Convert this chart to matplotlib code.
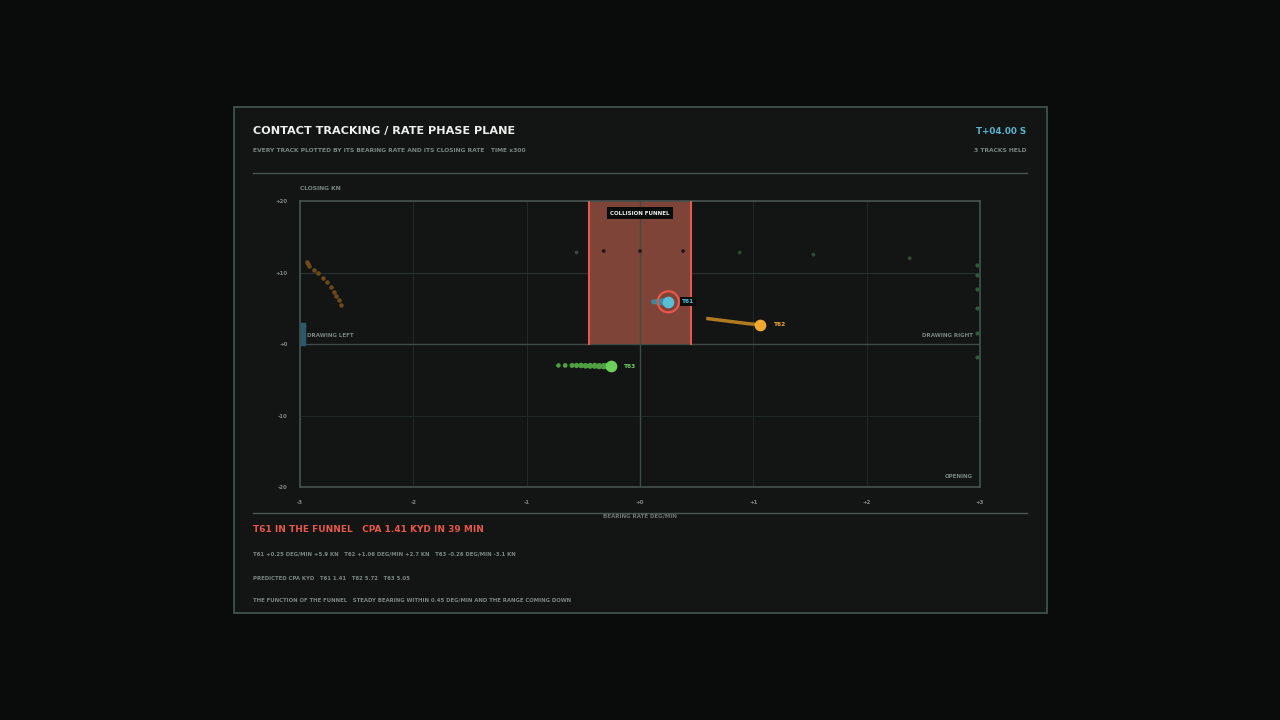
import matplotlib
matplotlib.use("Agg")
import matplotlib.pyplot as plt
from matplotlib.patches import Rectangle
import numpy as np

W, H = 1280, 720
fig = plt.figure(figsize=(W/100, H/100), dpi=100)
fig.patch.set_facecolor("#0a0b0b")

pan = fig.add_axes([0, 0, 1, 1]); pan.set_xlim(0, W); pan.set_ylim(H, 0); pan.axis("off")
pan.add_patch(Rectangle((233.5, 106.5), 813, 506, fc="#121514", ec="#41514e", lw=1.3))
pan.plot([253, 1027], [173, 173], color="#4a5654", lw=1)
pan.plot([253, 1027], [513, 513], color="#4a5654", lw=1)
pan.text(253, 131, "CONTACT TRACKING / RATE PHASE PLANE", color="#eef0ee", fontsize=8.1, fontweight="bold", va="center")
pan.text(253, 151, "EVERY TRACK PLOTTED BY ITS BEARING RATE AND ITS CLOSING RATE   TIME x300", color="#7c8583", fontsize=4.3, fontweight="bold", va="center")
pan.text(1026, 131, "T+04.00 S", color="#5ab4d0", fontsize=6.3, fontweight="bold", va="center", ha="right")
pan.text(1026, 151, "3 TRACKS HELD", color="#7c8583", fontsize=4.3, fontweight="bold", va="center", ha="right")
pan.text(300, 189, "CLOSING KN", color="#7c8583", fontsize=4.3, fontweight="bold", va="center")
pan.text(640, 516, "BEARING RATE DEG/MIN", color="#6c7573", fontsize=4.0, fontweight="bold", va="center", ha="center")
pan.text(253, 530, "T61 IN THE FUNNEL   CPA 1.41 KYD IN 39 MIN", color="#e8574a", fontsize=6.5, fontweight="bold", va="center")
pan.text(253, 554, "T61 +0.25 DEG/MIN +5.9 KN   T62 +1.06 DEG/MIN +2.7 KN   T63 -0.26 DEG/MIN -3.1 KN", color="#7c8583", fontsize=3.9, fontweight="bold", va="center")
pan.text(253, 578, "PREDICTED CPA KYD   T61 1.41   T62 5.72   T63 5.05", color="#7c8583", fontsize=3.9, fontweight="bold", va="center")
pan.text(253, 600, "THE FUNCTION OF THE FUNNEL   STEADY BEARING WITHIN 0.45 DEG/MIN AND THE RANGE COMING DOWN", color="#7c8583", fontsize=3.9, fontweight="bold", va="center")

# data
x_ticks = [-3, -2, -1, 0, 1, 2, 3]
x_labels = ["-3", "-2", "-1", "+0", "+1", "+2", "+3"]
y_ticks = [-20, -10, 0, 10, 20]
y_labels = ["-20", "-10", "+0", "+10", "+20"]
funnel_half = 0.45
names = ["T61", "T62", "T63"]
colors = ["#5bbcd6", "#f0a830", "#6ccf5c"]
cur_x = [0.25, 1.06, -0.26]
cur_y = [5.9, 2.7, -3.1]
t62_trail_x = [0.60, 0.65, 0.70, 0.75, 0.80, 0.85, 0.90, 0.95, 1.00]
t62_trail_y = [3.55, 3.45, 3.35, 3.25, 3.15, 3.05, 2.95, 2.85, 2.78]
t63_trail_x = [-0.72, -0.66, -0.60, -0.56, -0.52, -0.48, -0.44, -0.40, -0.36, -0.32, -0.29]
t63_trail_y = [-3.0, -3.0, -3.0, -3.0, -3.0, -3.05, -3.05, -3.05, -3.1, -3.1, -3.1]
t61_trail_x = [0.12, 0.15, 0.18, 0.21]
t61_trail_y = [5.9, 5.9, 5.9, 5.9]
left_orange_x = [-2.94, -2.93, -2.92, -2.88, -2.84, -2.80, -2.76, -2.73, -2.70, -2.68, -2.66, -2.64]
left_orange_y = [11.5, 11.2, 10.9, 10.4, 9.9, 9.3, 8.7, 8.0, 7.3, 6.7, 6.1, 5.4]
left_blue_y = [0.2, 0.6, 1.0, 1.4, 1.8, 2.2, 2.6]
right_green_y = [11.0, 9.7, 7.7, 5.0, 1.6, -1.8]
dim_x = [-0.56, -0.32, 0.0, 0.38, 0.88, 1.53, 2.38]
dim_y = [12.8, 13.0, 13.0, 13.0, 12.8, 12.5, 12.0]

ax = fig.add_axes([300/W, 1-487/H, 680/W, 286/H])
ax.set_facecolor("#121514")
ax.set_xlim(-3, 3); ax.set_ylim(-20, 20)
for s in ax.spines.values():
    s.set_color("#44534f"); s.set_linewidth(1.2)
ax.set_xticks(x_ticks, x_labels); ax.set_yticks(y_ticks, y_labels)
ax.tick_params(colors="#7c8583", labelsize=4, length=0, pad=9)
for t in ax.get_xticklabels() + ax.get_yticklabels():
    t.set_fontweight("bold")
for xv in x_ticks:
    ax.axvline(xv, color="#222a28", lw=0.7, zorder=0)
for yv in y_ticks:
    ax.axhline(yv, color="#222a28", lw=0.7, zorder=0)
ax.axhline(0, color="#3e4b48", lw=1, zorder=1)
ax.axvline(0, color="#3e4b48", lw=1, zorder=3)
ax.axhline(10, color="#2a3331", lw=0.8, zorder=1)
ax.add_patch(Rectangle((-funnel_half, 0), 2*funnel_half, 20, fc="#7e4437", ec="none", zorder=2))
ax.plot([-funnel_half]*2, [0, 20], color="#e8574a", lw=1.5, zorder=3)
ax.plot([funnel_half]*2, [0, 20], color="#e8574a", lw=1.5, zorder=3)
ax.text(0, 18.3, "COLLISION FUNNEL", color="#f0f0f0", fontsize=4, fontweight="bold", ha="center", va="center",
        bbox=dict(fc="#0a0b0b", ec="none", pad=2.5), zorder=6)

ax.scatter(dim_x, dim_y, s=3, color=["#3a4a40", "#241a18", "#241a18", "#241a18", "#2e4a2e", "#2e4a38", "#3a4a2e"], zorder=4)
ax.scatter(left_orange_x, left_orange_y, s=5, color="#6e4a18", zorder=4)
ax.scatter([-2.97]*len(left_blue_y), left_blue_y, s=5, marker="s", color="#2a5a68", zorder=4)
ax.scatter([2.97]*len(right_green_y), right_green_y, s=4, color="#2a5e34", zorder=4)
ax.scatter(t61_trail_x, t61_trail_y, s=[6, 10, 14, 20], color="#3a8aa0", zorder=5)
ax.plot(t62_trail_x + [cur_x[1]], t62_trail_y + [cur_y[1]], color="#b07a20", lw=2.5, zorder=5)
ax.scatter(t63_trail_x, t63_trail_y, s=np.linspace(5, 14, len(t63_trail_x)), color="#4ea040", zorder=5)
ax.plot(t63_trail_x[4:] + [cur_x[2]], t63_trail_y[4:] + [cur_y[2]], color="#4ea040", lw=2.5, zorder=5)
ax.scatter([cur_x[0]], [cur_y[0]], s=230, facecolor="none", edgecolor="#e8574a", lw=1.6, zorder=7)
for n, c, x, y in zip(names, colors, cur_x, cur_y):
    ax.scatter([x], [y], s=55, color=c, zorder=8)
    ax.text(x + 0.12, y, n, color=c, fontsize=4.2, fontweight="bold", va="center",
            bbox=dict(fc="#0a0b0b", ec="none", pad=1.5) if n == "T61" else None, zorder=8)
ax.text(-2.94, 1.2, "DRAWING LEFT", color="#7c8583", fontsize=4, fontweight="bold", va="center", zorder=6)
ax.text(2.94, 1.2, "DRAWING RIGHT", color="#7c8583", fontsize=4, fontweight="bold", va="center", ha="right", zorder=6)
ax.text(2.94, -18.5, "OPENING", color="#7c8583", fontsize=4, fontweight="bold", va="center", ha="right", zorder=6)

fig.savefig("out.png", dpi=100, facecolor=fig.get_facecolor())
